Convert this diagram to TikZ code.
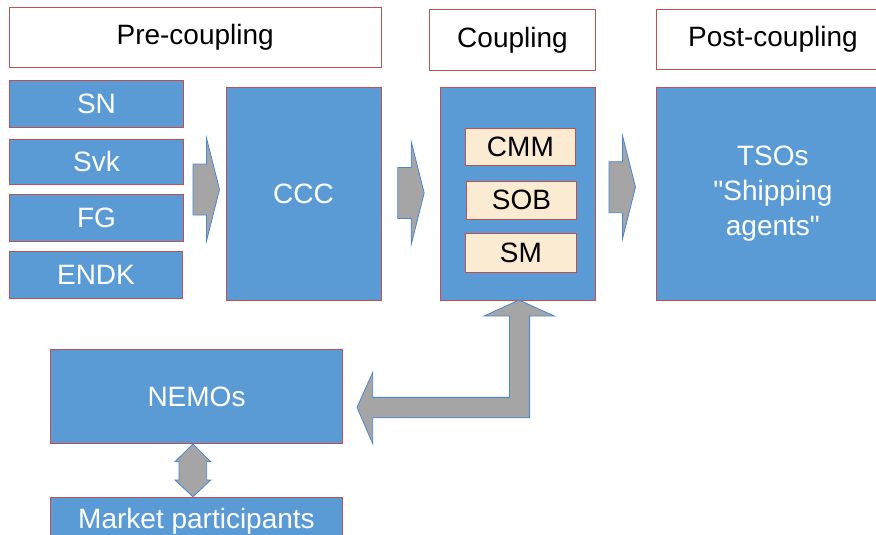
\documentclass[tikz,border=0pt]{standalone}
\usepackage{fontspec}
\setmainfont{Liberation Sans}[Ligatures=TeXOff]
\definecolor{boxblue}{HTML}{5B9BD5}
\definecolor{boxred}{HTML}{C0504D}
\definecolor{toolfill}{HTML}{FCEBD3}
\definecolor{arrowgray}{HTML}{A5A5A5}
\definecolor{arrowblue}{HTML}{4A86D0}
% right-pointing block arrow, tail centre given as the argument
\newcommand{\stagearrow}[1]{%
  \draw[flow, shift={#1}] (0,-25.5) -- (13.5,-25.5) -- (13.5,-51.5) -- (26.5,0)
    -- (13.5,51.5) -- (13.5,25.5) -- (0,25.5) -- cycle;}
\begin{document}
\begin{tikzpicture}[x=1pt,y=-1pt,
  font=\fontsize{28}{35}\selectfont,
  every node/.style={inner sep=0pt, outer sep=0pt},
  phase/.style={draw=boxred, line width=0.9pt, fill=white, text=black},
  actor/.style={draw=boxred, line width=0.9pt, fill=boxblue, text=white},
  tool/.style={draw=boxred, line width=0.9pt, fill=toolfill, text=black},
  flow/.style={fill=arrowgray, draw=arrowblue, line width=0.8pt, line join=miter}]
\useasboundingbox (0,0) rectangle (876,535);
\clip (0,0) rectangle (876,535);

% phase headings
\node[phase, minimum width=371.7pt, minimum height=60pt] (pre) at (195.2,37.7) {Pre-coupling};
\node[phase, minimum width=165.6pt, minimum height=61pt] (cplhead) at (512.5,39.8) {Coupling};
\node[phase, minimum width=232.3pt, minimum height=60.4pt] (posthead) at (772.9,39.5) {Post-coupling};

% pre-coupling parties
\node[actor, minimum width=174pt, minimum height=47pt] (sn) at (96.5,103.5) {SN};
\node[actor, minimum width=174pt, minimum height=45pt] (svk) at (96.5,161.5) {Svk};
\node[actor, minimum width=174pt, minimum height=47pt] (fg) at (96.5,217.5) {FG};
\node[actor, minimum width=173pt, minimum height=46.3pt] (endk) at (96,274.9) {ENDK};
\node[actor, minimum width=155pt, minimum height=212.3pt] (ccc) at (303.5,193.9) {CCC};

% coupling
\node[actor, minimum width=155pt, minimum height=212.3pt] (coupling) at (517.8,193.9) {};
\node[tool, minimum width=109.3pt, minimum height=37pt] (cmm) at (520.4,146.8) {CMM};
\node[tool, minimum width=109.3pt, minimum height=38.3pt] (sob) at (521.4,200.2) {SOB};
\node[tool, minimum width=110.3pt, minimum height=38.7pt] (sm) at (520.9,252.7) {SM};

% post-coupling
\node[actor, minimum width=232.3pt, minimum height=212.3pt, align=center] (tsos) at (772.9,193.9)
  {TSOs\\"Shipping\\agents"};

% market side
\node[actor, minimum width=291.7pt, minimum height=94.7pt] (nemos) at (196.5,396.4) {NEMOs};
\node[actor, minimum width=291.7pt, text height=30.3pt, text depth=32pt, anchor=north]
  (market) at (196.5,497.7) {Market participants};

% stage arrows
\coordinate (a1) at (193,189.5);
\coordinate (a2) at (397.7,193);
\coordinate (a3) at (609,187.2);
\stagearrow{(a1)}
\stagearrow{(a2)}
\stagearrow{(a3)}

% coupling <-> NEMOs bent arrow
\draw[flow, shift={(coupling.south)}]
  (1.2,0) -- (36.7,16) -- (11.8,16) -- (11.8,117.7) -- (-145.1,117.7)
  -- (-145.1,143.7) -- (-160.8,107.3) -- (-145.1,72.3) -- (-145.1,97.3)
  -- (-8.3,97.3) -- (-8.3,16) -- (-33.8,16) -- cycle;

% NEMOs <-> market participants
\draw[flow, shift={(nemos.south)}]
  (-3.6,0.3) -- (14.2,18) -- (10.2,18) -- (10.2,36.3) -- (14.2,36.3) -- (-3.6,53)
  -- (-21.5,36.3) -- (-17.5,36.3) -- (-17.5,18) -- (-21.5,18) -- cycle;
\end{tikzpicture}
\end{document}
